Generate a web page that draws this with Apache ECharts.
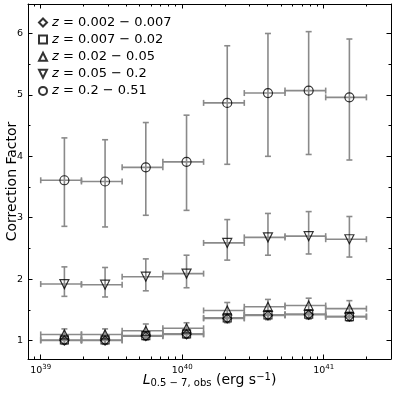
<!DOCTYPE html>
<html><head><meta charset="utf-8">
<script src="https://cdn.jsdelivr.net/npm/echarts@6/dist/echarts.min.js"></script>
<style>html,body{margin:0;padding:0;background:#fff}#c{width:395px;height:395px}</style>
</head><body><div id="c"></div>
<script>
// Luminosity bins (erg/s)
const binEdges = [1.000e39, 1.940e39, 3.762e39, 7.298e39, 1.416e40, 2.746e40, 5.327e40, 1.033e41, 2.004e41];
const binCenters = [1.47e39, 2.85e39, 5.53e39, 1.073e40, 2.081e40, 4.037e40, 7.83e40, 1.519e41];
const seriesLabels = ['0.002 − 0.007', '0.007 − 0.02', '0.02 − 0.05', '0.05 − 0.2', '0.2 − 0.51'];

// z = 0.002 - 0.007 (diamonds)
const cfA = [1.00, 1.00, 1.07, 1.10, 1.36, 1.41, 1.42, 1.39];
const loA = [0.94, 0.94, 1.01, 1.04, 1.29, 1.34, 1.35, 1.32];
const hiA = [1.06, 1.06, 1.13, 1.16, 1.43, 1.48, 1.49, 1.46];
// z = 0.007 - 0.02 (squares)
const cfB = [1.01, 1.01, 1.08, 1.11, 1.37, 1.42, 1.43, 1.39];
const loB = [0.95, 0.95, 1.02, 1.05, 1.30, 1.35, 1.36, 1.32];
const hiB = [1.07, 1.07, 1.14, 1.17, 1.44, 1.49, 1.50, 1.46];
// z = 0.02 - 0.05 (triangles)
const cfC = [1.10, 1.10, 1.16, 1.20, 1.49, 1.55, 1.57, 1.52];
const loC = [1.01, 1.01, 1.05, 1.11, 1.36, 1.43, 1.45, 1.39];
const hiC = [1.19, 1.19, 1.27, 1.29, 1.62, 1.67, 1.69, 1.65];
// z = 0.05 - 0.2 (down triangles)
const cfD = [1.92, 1.91, 2.04, 2.09, 2.59, 2.68, 2.70, 2.65];
const loD = [1.72, 1.71, 1.81, 1.86, 2.31, 2.39, 2.41, 2.36];
const hiD = [2.20, 2.19, 2.33, 2.39, 2.97, 3.07, 3.10, 3.02];
// z = 0.2 - 0.51 (circles)
const cfE = [3.61, 3.59, 3.82, 3.91, 4.87, 5.03, 5.07, 4.96];
const loE = [2.86, 2.85, 3.04, 3.12, 3.87, 4.00, 4.03, 3.94];
const hiE = [4.30, 4.27, 4.55, 4.67, 5.80, 6.00, 6.03, 5.91];

const xMajor = [1e39, 1e40, 1e41];
const xMinor = [9e38, 2e39, 3e39, 4e39, 5e39, 6e39, 7e39, 8e39, 9e39,
  2e40, 3e40, 4e40, 5e40, 6e40, 7e40, 8e40, 9e40, 2e41];
const yMajor = [1, 2, 3, 4, 5, 6];
const yMinor = [1.5, 2.5, 3.5, 4.5, 5.5];

const X_MIN = 8.13e38, X_MAX = 2.99e41, Y_MIN = 0.70, Y_MAX = 6.48;
const FONT = 'DejaVu Sans';
const ERR_COLOR = '#8a8a8a';

const groups = [
  {cf: cfA, lo: loA, hi: hiA, symbol: 'diamond', size: 9},
  {cf: cfB, lo: loB, hi: hiB, symbol: 'rect', size: 8},
  {cf: cfC, lo: loC, hi: hiC, symbol: 'triangle', size: 9},
  {cf: cfD, lo: loD, hi: hiD, symbol: 'path://M0,0L10,0L5,10Z', size: 9},
  {cf: cfE, lo: loE, hi: hiE, symbol: 'circle', size: 9}
];

function errData(g) {
  return binCenters.map((x, i) => [x, g.cf[i], binEdges[i], binEdges[i + 1], g.lo[i], g.hi[i]]);
}

function renderErr(params, api) {
  const xc = api.value(0), y = api.value(1);
  const p = api.coord([xc, y]);
  const pl = api.coord([api.value(2), y]);
  const pr = api.coord([api.value(3), y]);
  const pb = api.coord([xc, api.value(4)]);
  const pt = api.coord([xc, api.value(5)]);
  const cap = 3;
  const st = {stroke: ERR_COLOR, lineWidth: 1.6, fill: null};
  const L = (x1, y1, x2, y2) => ({type: 'line', shape: {x1, y1, x2, y2}, style: st});
  return {type: 'group', children: [
    L(pl[0], p[1], pr[0], p[1]),
    L(pl[0], p[1] - cap, pl[0], p[1] + cap),
    L(pr[0], p[1] - cap, pr[0], p[1] + cap),
    L(p[0], pb[1], p[0], pt[1]),
    L(p[0] - cap, pb[1], p[0] + cap, pb[1]),
    L(p[0] - cap, pt[1], p[0] + cap, pt[1])
  ]};
}

const series = [];
groups.forEach((g, k) => {
  series.push({
    type: 'custom', name: seriesLabels[k] + '_err', xAxisIndex: 0, yAxisIndex: 0,
    renderItem: renderErr, data: errData(g), z: 2, silent: true,
    encode: {x: [0, 2, 3], y: [1, 4, 5]}
  });
});
groups.forEach((g, k) => {
  series.push({
    type: 'scatter', name: seriesLabels[k], xAxisIndex: 0, yAxisIndex: 0,
    symbol: g.symbol, symbolSize: g.size, z: 3,
    itemStyle: {color: 'rgba(0,0,0,0)', borderColor: '#000', borderWidth: 1.2},
    data: binCenters.map((x, i) => [x, g.cf[i]])
  });
});

const expLabel = v => '{b|10}{s|' + Math.round(Math.log10(v)) + '}';

function xAx(pos, major, labels) {
  return {
    type: 'log', logBase: 10, min: X_MIN, max: X_MAX, position: pos,
    axisLine: {show: major, lineStyle: {color: '#000', width: 1}},
    axisTick: {show: true, inside: true, length: major ? 4.5 : 2.5,
      customValues: major ? xMajor : xMinor, lineStyle: {color: '#000', width: 1}},
    axisLabel: labels ? {show: true, customValues: xMajor, formatter: expLabel, margin: 5,
      color: '#000', fontFamily: FONT,
      rich: {b: {fontSize: 9.5, fontFamily: FONT, color: '#000'},
             s: {fontSize: 7, fontFamily: FONT, color: '#000', padding: [0, 0, 6, 0]}}} : {show: false},
    splitLine: {show: false}, minorTick: {show: false}
  };
}
function yAx(pos, major, labels) {
  return {
    type: 'value', min: Y_MIN, max: Y_MAX, position: pos,
    axisLine: {show: major, lineStyle: {color: '#000', width: 1}},
    axisTick: {show: true, inside: true, length: major ? 4.5 : 2.5,
      customValues: major ? yMajor : yMinor, lineStyle: {color: '#000', width: 1}},
    axisLabel: labels ? {show: true, customValues: yMajor, margin: 5, color: '#000',
      fontFamily: FONT, fontSize: 9.5} : {show: false},
    splitLine: {show: false}, minorTick: {show: false}
  };
}

const xAxes = [xAx('bottom', true, true), xAx('bottom', false, false), xAx('top', true, false), xAx('top', false, false)];
xAxes[0].name = '{i|L}{sub|0.5 − 7, obs} (erg s{sup|−1})';
xAxes[0].nameLocation = 'middle';
xAxes[0].nameGap = 13;
xAxes[0].nameMoveOverlap = false;
xAxes[0].nameTextStyle = {fontFamily: FONT, fontSize: 14, color: '#000',
  rich: {i: {fontFamily: FONT, fontSize: 14, fontStyle: 'italic', color: '#000'},
         sub: {fontFamily: FONT, fontSize: 10, color: '#000', padding: [5, 0, 0, 0]},
         sup: {fontFamily: FONT, fontSize: 10, color: '#000', padding: [0, 0, 7, 0]}}};
const yAxes = [yAx('left', true, true), yAx('left', false, false), yAx('right', true, false), yAx('right', false, false)];
yAxes[0].name = 'Correction Factor';
yAxes[0].nameLocation = 'middle';
yAxes[0].nameGap = 9;
yAxes[0].nameMoveOverlap = false;
yAxes[0].nameTextStyle = {fontFamily: FONT, fontSize: 14, color: '#000'};

const chart = echarts.init(document.getElementById('c'), null, {renderer: 'canvas'});
chart.setOption({
  animation: false,
  backgroundColor: '#fff',
  grid: {left: 28, right: 4, top: 4, bottom: 36, containLabel: false, outerBoundsMode: 'none'},
  xAxis: xAxes,
  yAxis: yAxes,
  legend: {
    data: seriesLabels, orient: 'vertical', left: 38, top: 16, padding: 0,
    itemWidth: 8, itemHeight: 8, itemGap: 4.1, selectedMode: false,
    formatter: n => '{i|z} = ' + n,
    textStyle: {fontFamily: FONT, fontSize: 13, color: '#000', lineHeight: 12, padding: [0, 0, 0, 0],
      rich: {i: {fontFamily: FONT, fontSize: 13, fontStyle: 'italic', color: '#000'}}}
  },
  series: series
});
</script></body></html>
